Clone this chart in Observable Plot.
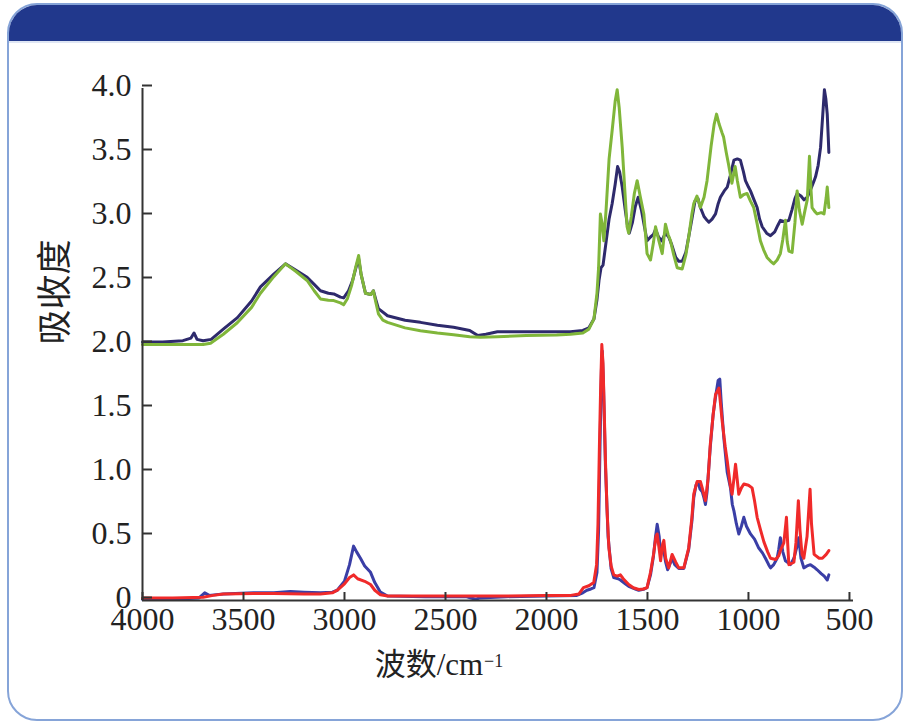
<!DOCTYPE html>
<html>
<head>
<meta charset="utf-8">
<script src="https://cdn.jsdelivr.net/npm/d3@7"></script>
<script src="https://cdn.jsdelivr.net/npm/@observablehq/plot@0.6"></script>
<style>
  html, body { margin: 0; padding: 0; background: #ffffff; width: 904px; height: 726px; overflow: hidden; }
  body { position: relative; }
  #frame {
    position: absolute; left: 7px; top: 3px; width: 892px; height: 714px;
    border: 2.5px solid #86a4d8; border-radius: 30px; overflow: hidden; background: #fff;
  }
  #header { position: absolute; left: 0; top: 0; right: 0; height: 36px; background: #21388c; border-bottom: 2px solid #dfe6f4; }
  #chart { position: absolute; left: 0; top: 0; width: 904px; height: 726px; line-height: 0; }
  #chart svg { display: block; }
  #chart svg text { font-family: "Liberation Serif", "Noto Sans CJK SC", serif; }
</style>
</head>
<body>
<div id="frame"><div id="header"></div></div>
<div id="chart"></div>
<script>
// ---- data (wavenumber cm^-1, absorbance) ----
const navyUpper = [
  [4000,2.02],[3900,2.02],[3800,2.03],[3760,2.05],[3745,2.09],[3730,2.04],[3700,2.03],[3660,2.04],
  [3600,2.12],[3530,2.21],[3460,2.34],[3416,2.45],[3350,2.55],[3292,2.63],[3240,2.58],[3185,2.525],
  [3150,2.47],[3119,2.42],[3080,2.40],[3053,2.395],[3020,2.37],[3004,2.364],[2980,2.42],[2960,2.50],
  [2940,2.62],[2930,2.67],[2918,2.55],[2896,2.40],[2870,2.39],[2857,2.42],[2845,2.35],[2832,2.28],
  [2787,2.225],[2700,2.19],[2624,2.173],[2540,2.15],[2460,2.134],[2380,2.11],[2340,2.07],[2300,2.08],
  [2243,2.10],[2100,2.10],[1950,2.10],[1881,2.10],[1820,2.11],[1790,2.13],[1765,2.20],[1750,2.35],
  [1740,2.50],[1730,2.60],[1720,2.62],[1705,2.80],[1690,2.98],[1675,3.10],[1660,3.25],[1648,3.39],
  [1638,3.35],[1625,3.23],[1610,3.05],[1600,2.94],[1590,2.87],[1575,2.95],[1560,3.08],[1546,3.15],
  [1530,3.05],[1515,2.92],[1502,2.81],[1485,2.84],[1470,2.86],[1460,2.90],[1445,2.84],[1430,2.81],
  [1411,2.87],[1395,2.84],[1380,2.78],[1360,2.68],[1345,2.65],[1328,2.65],[1310,2.72],[1296,2.84],
  [1280,2.98],[1265,3.12],[1250,3.14],[1238,3.07],[1220,3.00],[1205,2.97],[1196,2.955],[1180,2.98],
  [1163,3.02],[1150,3.10],[1139,3.15],[1120,3.20],[1105,3.23],[1090,3.32],[1072,3.44],[1055,3.45],
  [1040,3.44],[1025,3.35],[1015,3.28],[1000,3.23],[990,3.20],[975,3.14],[957,3.07],[945,2.98],
  [932,2.92],[910,2.87],[891,2.85],[870,2.88],[855,2.93],[842,2.97],[820,2.96],[800,2.97],
  [785,3.05],[770,3.14],[759,3.18],[740,3.16],[725,3.13],[709,3.15],[690,3.22],[675,3.28],
  [668,3.31],[655,3.40],[643,3.54],[632,3.80],[624,3.99],[617,3.92],[610,3.80],[605,3.62],[602,3.50]
];
const greenUpper = [
  [4000,2.00],[3900,2.00],[3800,2.00],[3700,2.00],[3663,2.01],[3600,2.08],[3531,2.17],[3460,2.29],
  [3416,2.40],[3350,2.53],[3292,2.63],[3240,2.57],[3185,2.50],[3150,2.42],[3119,2.356],[3080,2.345],
  [3053,2.343],[3020,2.325],[3004,2.31],[2985,2.36],[2965,2.46],[2945,2.60],[2930,2.695],[2918,2.55],
  [2896,2.40],[2870,2.39],[2857,2.42],[2845,2.33],[2832,2.24],[2810,2.19],[2787,2.173],[2700,2.13],
  [2624,2.108],[2540,2.09],[2460,2.077],[2380,2.06],[2327,2.056],[2243,2.06],[2100,2.07],[1950,2.075],
  [1881,2.08],[1820,2.09],[1790,2.12],[1765,2.20],[1750,2.40],[1742,2.60],[1733,3.02],[1725,2.95],
  [1716,2.81],[1705,3.05],[1690,3.45],[1675,3.67],[1660,3.90],[1650,3.99],[1640,3.85],[1625,3.54],
  [1612,3.20],[1601,2.92],[1593,2.87],[1580,3.00],[1565,3.18],[1551,3.28],[1535,3.15],[1518,3.02],
  [1502,2.71],[1485,2.66],[1470,2.80],[1460,2.92],[1445,2.82],[1427,2.71],[1411,2.94],[1398,2.86],
  [1386,2.81],[1370,2.70],[1353,2.60],[1328,2.59],[1310,2.70],[1296,2.84],[1280,3.02],[1271,3.10],
  [1255,3.16],[1238,3.07],[1220,3.15],[1205,3.28],[1185,3.55],[1170,3.72],[1158,3.80],[1145,3.72],
  [1130,3.65],[1123,3.62],[1110,3.50],[1099,3.41],[1082,3.26],[1066,3.39],[1055,3.28],[1040,3.15],
  [1025,3.17],[1007,3.18],[990,3.12],[974,3.07],[958,2.95],[941,2.81],[925,2.74],[908,2.68],
  [890,2.65],[875,2.63],[858,2.66],[842,2.71],[830,2.82],[817,2.97],[808,2.80],[800,2.73],
  [784,2.72],[770,2.95],[759,3.20],[748,3.05],[734,2.94],[720,3.05],[709,3.13],[698,3.47],
  [690,3.20],[685,3.07],[672,3.04],[660,3.02],[640,3.03],[626,3.02],[615,3.15],[610,3.23],[602,3.07]
];
const blueLower = [
  [4000,0.01],[3850,0.01],[3720,0.02],[3692,0.06],[3670,0.04],[3600,0.05],[3450,0.06],[3350,0.06],
  [3268,0.07],[3200,0.065],[3119,0.06],[3060,0.065],[3036,0.08],[3000,0.15],[2975,0.28],[2955,0.425],
  [2940,0.38],[2921,0.33],[2900,0.27],[2871,0.22],[2850,0.14],[2822,0.065],[2787,0.035],[2600,0.03],
  [2400,0.03],[2350,0.01],[2330,0.02],[2200,0.03],[2000,0.035],[1850,0.04],[1820,0.06],[1800,0.08],
  [1780,0.09],[1765,0.10],[1750,0.22],[1742,0.55],[1735,1.20],[1728,1.80],[1724,1.95],[1718,1.70],
  [1708,1.05],[1695,0.50],[1680,0.25],[1667,0.18],[1645,0.17],[1634,0.16],[1610,0.13],[1593,0.11],
  [1560,0.09],[1543,0.08],[1515,0.09],[1502,0.10],[1485,0.20],[1470,0.35],[1460,0.50],[1452,0.595],
  [1442,0.50],[1435,0.36],[1425,0.42],[1419,0.38],[1410,0.30],[1400,0.24],[1385,0.30],[1378,0.33],
  [1365,0.28],[1345,0.25],[1320,0.25],[1296,0.40],[1280,0.62],[1271,0.80],[1260,0.90],[1250,0.93],
  [1240,0.87],[1229,0.85],[1220,0.80],[1213,0.75],[1205,0.85],[1189,1.20],[1175,1.45],[1164,1.58],
  [1150,1.72],[1142,1.73],[1135,1.55],[1122,1.27],[1105,1.00],[1089,0.88],[1080,0.75],[1072,0.70],
  [1060,0.60],[1048,0.52],[1035,0.58],[1023,0.65],[1010,0.58],[990,0.52],[970,0.48],[949,0.41],
  [930,0.37],[916,0.33],[900,0.28],[891,0.255],[875,0.28],[858,0.33],[850,0.40],[842,0.49],
  [830,0.38],[817,0.31],[800,0.29],[792,0.28],[775,0.33],[760,0.42],[751,0.49],[740,0.33],
  [726,0.255],[710,0.27],[693,0.28],[675,0.26],[660,0.24],[640,0.21],[625,0.19],[610,0.16],[602,0.20]
];
const redLower = [
  [4000,0.02],[3850,0.02],[3700,0.025],[3650,0.04],[3600,0.05],[3450,0.055],[3350,0.055],[3200,0.05],
  [3119,0.05],[3060,0.06],[3036,0.08],[3000,0.13],[2975,0.18],[2955,0.20],[2935,0.17],[2900,0.15],
  [2871,0.125],[2850,0.08],[2822,0.045],[2787,0.035],[2500,0.035],[2200,0.035],[2000,0.04],[1880,0.04],
  [1840,0.05],[1817,0.10],[1790,0.115],[1766,0.14],[1752,0.28],[1745,0.60],[1738,1.20],[1732,1.65],
  [1726,2.00],[1720,1.85],[1712,1.35],[1708,1.09],[1700,0.70],[1691,0.41],[1680,0.27],[1667,0.20],
  [1650,0.19],[1634,0.20],[1620,0.17],[1593,0.125],[1570,0.10],[1543,0.086],[1520,0.09],[1502,0.10],
  [1485,0.22],[1470,0.36],[1458,0.50],[1452,0.52],[1442,0.40],[1435,0.31],[1425,0.44],[1419,0.47],
  [1410,0.33],[1395,0.255],[1378,0.36],[1360,0.30],[1345,0.255],[1320,0.255],[1296,0.41],[1280,0.65],
  [1271,0.83],[1254,0.93],[1238,0.93],[1229,0.88],[1213,0.78],[1200,0.95],[1189,1.22],[1175,1.45],
  [1163,1.61],[1146,1.66],[1130,1.40],[1115,1.20],[1105,1.09],[1090,0.90],[1081,0.83],[1072,0.95],
  [1064,1.065],[1056,0.95],[1048,0.83],[1035,0.88],[1023,0.91],[1000,0.90],[982,0.88],[970,0.78],
  [957,0.65],[940,0.55],[924,0.46],[905,0.38],[891,0.33],[866,0.32],[850,0.35],[842,0.39],
  [825,0.45],[815,0.60],[812,0.65],[806,0.45],[800,0.28],[775,0.30],[765,0.45],[753,0.78],
  [745,0.55],[735,0.36],[726,0.33],[710,0.50],[695,0.87],[688,0.60],[675,0.36],[650,0.33],
  [634,0.33],[615,0.36],[602,0.39]
];
const xTicks = [4000, 3500, 3000, 2500, 2000, 1500, 1000, 500];
const yTicks = [0, 0.5, 1.0, 1.5, 2.0, 2.5, 3.0, 3.5, 4.0];
const yLabel = "吸收度";
const xLabel = "波数/cm";
const xLabelSup = "−1";

const toRows = (arr) => arr.map(([wn, a]) => ({wn, a}));
const serif = "Liberation Serif, Noto Sans CJK SC, serif";

const chart = Plot.plot({
  width: 904,
  height: 726,
  marginLeft: 142,
  marginRight: 51,
  marginTop: 88,
  marginBottom: 126,
  style: {background: "transparent", fontFamily: serif, fontSize: "32px", color: "#222"},
  x: {domain: [4000, 480], axis: null},
  y: {domain: [0, 4], axis: null},
  marks: [
    Plot.line(toRows(navyUpper), {x: "wn", y: "a", stroke: "#2e2a6c", strokeWidth: 3}),
    Plot.line(toRows(greenUpper), {x: "wn", y: "a", stroke: "#80b63a", strokeWidth: 3}),
    Plot.line(toRows(blueLower), {x: "wn", y: "a", stroke: "#3a3ea6", strokeWidth: 3}),
    Plot.line(toRows(redLower), {x: "wn", y: "a", stroke: "#f02a2a", strokeWidth: 3}),
    Plot.ruleY([0], {stroke: "#333", strokeWidth: 2}),
    Plot.ruleX([4000], {stroke: "#333", strokeWidth: 2}),
    Plot.axisY({ticks: yTicks, tickSize: -10, tickPadding: 21, strokeWidth: 2, stroke: "#333",
      tickFormat: d => d === 0 ? "0" : d.toFixed(1), label: null, fill: "#222",
      fontFamily: serif, fontSize: 32, dy: -3}),
    Plot.axisX({ticks: xTicks, tickSize: -8, tickPadding: 15, strokeWidth: 2, stroke: "#333",
      tickFormat: d => String(d), label: null, fill: "#222", fontFamily: serif, fontSize: 32}),
    Plot.text([yLabel], {frameAnchor: "left", dx: -87, rotate: -90, text: d => d, fontSize: 35, fill: "#222",
      fontFamily: serif}),
    Plot.text([xLabel], {frameAnchor: "bottom", dx: -69, dy: 74, text: d => d, fontSize: 31, fill: "#222",
      fontFamily: serif}),
    Plot.text([xLabelSup], {frameAnchor: "bottom", dx: -14, dy: 66, text: d => d, fontSize: 18,
      textAnchor: "start", fill: "#222", fontFamily: serif})
  ]
});
document.getElementById("chart").appendChild(chart);
</script>
</body>
</html>
